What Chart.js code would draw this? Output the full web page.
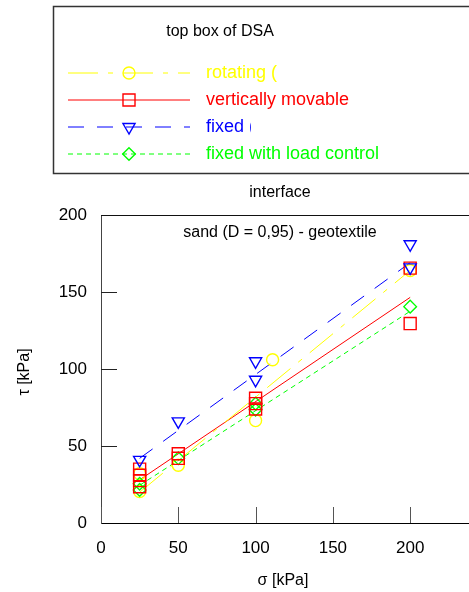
<!DOCTYPE html>
<html>
<head>
<meta charset="utf-8">
<script src="https://cdn.jsdelivr.net/npm/chart.js@4.4.0/dist/chart.umd.min.js"></script>
<style>
  html, body { margin: 0; padding: 0; overflow: hidden; background: #fff; }
  #wrap { position: relative; width: 472px; height: 592px; }
</style>
</head>
<body>
<div id="wrap"><canvas id="chart1" width="472" height="592"></canvas></div>
<script>
// sigma [kPa] / tau [kPa]
const rotatingX = [25, 25, 50, 100, 111, 200];
const rotatingY = [20.5, 32, 37.5, 66.5, 106, 164];
const movableX = [25, 25, 25, 25, 50, 50, 100, 100, 100, 200, 200];
const movableY = [35, 31, 27.5, 23.5, 45, 42, 81, 77.5, 74, 165.5, 129.5];
const fixedX = [25, 50, 100, 100, 200, 200];
const fixedY = [41, 66, 105, 93, 181, 166];
const loadCtrlX = [25, 25, 50, 100, 100, 200];
const loadCtrlY = [25.5, 21.5, 42, 77.5, 73.5, 140.5];

// fitted lines: tau at sigma = 25 and sigma = 200
const fitX = [25, 200];
const rotatingFit = [20, 164];
const movableFit = [28, 146.5];
const fixedFit = [42, 169];
const loadCtrlFit = [24.5, 137.5];

const xTicks = [0, 50, 100, 150, 200];
const yTicks = [0, 50, 100, 150, 200];

const FONT = 'Liberation Sans, Arial, sans-serif';

// legend order = order of this list; layer: lower is drawn on top
const series = [
  { label: 'rotating (', clipAt: 277, color: '#ffff00', point: 'circle', radius: 6, rotation: 0,
    dash: [30, 10, 5, 10], xs: rotatingX, ys: rotatingY, fit: rotatingFit, layer: 3 },
  { label: 'vertically movable', clipAt: 469, color: '#ff0000', point: 'rect', radius: 8.5, rotation: 0,
    dash: [], xs: movableX, ys: movableY, fit: movableFit, layer: 1 },
  { label: 'fixed (', clipAt: 251, color: '#0000ff', point: 'triangle', radius: 7, rotation: 180,
    dash: [16, 13], xs: fixedX, ys: fixedY, fit: fixedFit, layer: 0 },
  { label: 'fixed with load control', clipAt: 469, color: '#00ff00', point: 'rectRot', radius: 6.3, rotation: 0,
    dash: [5, 4], xs: loadCtrlX, ys: loadCtrlY, fit: loadCtrlFit, layer: 2 },
];

function points(xs, ys) {
  return xs.map((x, i) => ({ x, y: ys[i] }));
}

const datasets = [];
series.forEach((s) => {
  datasets.push({
    label: s.label,
    data: points(s.xs, s.ys),
    showLine: false,
    pointStyle: s.point,
    pointRadius: s.radius,
    pointRotation: s.rotation,
    pointBorderWidth: 1.4,
    borderColor: s.color,
    backgroundColor: 'rgba(0,0,0,0)',
    order: s.layer,
  });
  datasets.push({
    label: s.label + ' fit',
    data: points(fitX, s.fit),
    showLine: true,
    pointRadius: 0,
    borderColor: s.color,
    borderWidth: 1,
    borderDash: s.dash,
    order: 10,
  });
});

function drawMarker(ctx, s, x, y) {
  const r = s.radius;
  ctx.beginPath();
  if (s.point === 'circle') {
    ctx.arc(x, y, r, 0, Math.PI * 2);
  } else if (s.point === 'rect') {
    const h = r * Math.SQRT1_2;
    ctx.rect(x - h, y - h, 2 * h, 2 * h);
  } else if (s.point === 'rectRot') {
    ctx.moveTo(x, y - r);
    ctx.lineTo(x + r, y);
    ctx.lineTo(x, y + r);
    ctx.lineTo(x - r, y);
    ctx.closePath();
  } else {
    // triangle pointing down
    const w = r * Math.sin(Math.PI / 3);
    ctx.moveTo(x, y + r);
    ctx.lineTo(x - w, y - r / 2);
    ctx.lineTo(x + w, y - r / 2);
    ctx.closePath();
  }
  ctx.stroke();
}

const framePlugin = {
  id: 'frame',
  beforeDraw(chart) {
    const { ctx } = chart;
    ctx.save();
    ctx.fillStyle = '#fff';
    ctx.fillRect(0, 0, chart.width, chart.height);
    ctx.restore();
  },
  afterDraw(chart) {
    const { ctx, chartArea: a, scales } = chart;
    ctx.save();

    // top edge of the plot frame
    ctx.strokeStyle = '#111';
    ctx.lineWidth = 1;
    ctx.beginPath();
    ctx.moveTo(a.left, Math.round(a.top) + 0.5);
    ctx.lineTo(a.right, Math.round(a.top) + 0.5);
    ctx.stroke();

    // inward tick marks
    ctx.strokeStyle = '#222';
    yTicks.forEach((v) => {
      if (v === 0 || v === 200) return;
      const py = Math.round(scales.y.getPixelForValue(v)) + 0.5;
      ctx.beginPath();
      ctx.moveTo(a.left, py);
      ctx.lineTo(a.left + 16, py);
      ctx.stroke();
    });
    ctx.strokeStyle = '#555';
    xTicks.forEach((v) => {
      const px = Math.round(scales.x.getPixelForValue(v)) + 0.5;
      ctx.beginPath();
      ctx.moveTo(px, a.bottom);
      ctx.lineTo(px, a.bottom - 16);
      ctx.stroke();
    });

    // titles
    ctx.fillStyle = '#000';
    ctx.textAlign = 'center';
    ctx.textBaseline = 'middle';
    ctx.font = '16px ' + FONT;
    ctx.fillText('interface', 280, 193);
    ctx.fillText('sand (D = 0,95) - geotextile', 280, 233);
    ctx.fillText('\u03c3 [kPa]', 283, 581);
    ctx.save();
    ctx.translate(25, 372);
    ctx.rotate(-Math.PI / 2);
    ctx.fillText('\u03c4 [kPa]', 0, 0);
    ctx.restore();

    // legend box
    ctx.strokeStyle = '#333';
    ctx.lineWidth = 1.5;
    ctx.strokeRect(53.5, 6.5, 500, 167);
    ctx.fillText('top box of DSA', 220, 32);

    const rowY = [73, 100, 127, 154];
    series.forEach((s, i) => {
      const y = rowY[i];
      ctx.strokeStyle = s.color;
      ctx.lineWidth = 1;
      ctx.setLineDash(s.dash);
      ctx.beginPath();
      ctx.moveTo(68, y);
      ctx.lineTo(190, y);
      ctx.stroke();
      ctx.setLineDash([]);
      ctx.lineWidth = 1.4;
      drawMarker(ctx, s, 129, y);

      ctx.save();
      ctx.beginPath();
      ctx.rect(200, y - 15, s.clipAt - 200, 30);
      ctx.clip();
      ctx.fillStyle = s.color;
      ctx.textAlign = 'left';
      ctx.font = '18px ' + FONT;
      ctx.fillText(s.label, 206, y);
      ctx.restore();
    });

    ctx.restore();
  },
};

const ctx = document.getElementById('chart1').getContext('2d');
const chart1 = new Chart(ctx, {
  type: 'scatter',
  data: { datasets },
  options: {
    responsive: false,
    animation: false,
    devicePixelRatio: 1,
    layout: { autoPadding: false, padding: { top: 215, left: 0, right: 0, bottom: 0 } },
    plugins: {
      legend: { display: false },
      tooltip: { enabled: false },
    },
    scales: {
      x: {
        type: 'linear',
        min: 0,
        max: 240,
        afterFit(scale) {
          scale.height = 69;
          scale.paddingLeft = 0;
          scale.paddingRight = 0;
        },
        afterBuildTicks(scale) { scale.ticks = xTicks.map(v => ({ value: v })); },
        grid: { display: false, drawTicks: false },
        border: { display: true, color: '#000', width: 1 },
        ticks: { padding: 15, color: '#000', font: { family: FONT, size: 17 } },
      },
      y: {
        type: 'linear',
        min: 0,
        max: 200,
        afterFit(scale) {
          scale.width = 101;
          scale.paddingTop = 0;
          scale.paddingBottom = 0;
        },
        afterBuildTicks(scale) { scale.ticks = yTicks.map(v => ({ value: v })); },
        grid: { display: false, drawTicks: false },
        border: { display: true, color: '#444', width: 1 },
        ticks: { padding: 14, color: '#000', font: { family: FONT, size: 17 } },
      },
    },
  },
  plugins: [framePlugin],
});
</script>
</body>
</html>
